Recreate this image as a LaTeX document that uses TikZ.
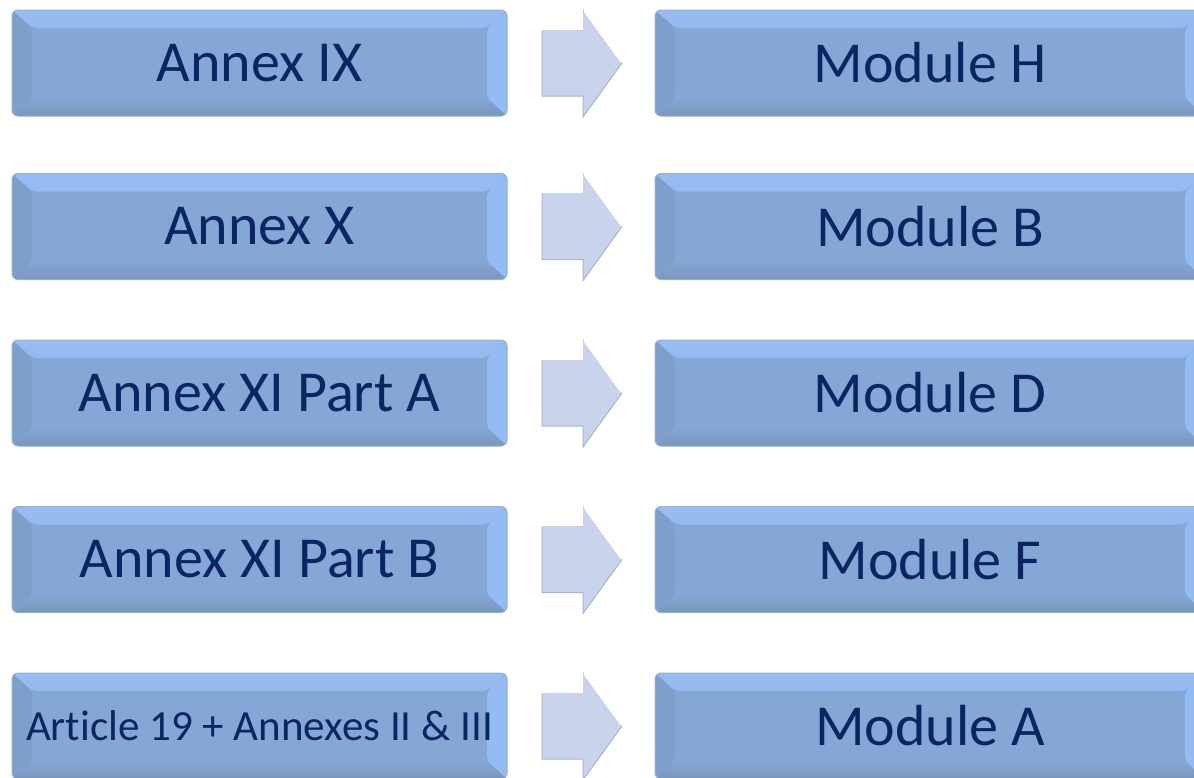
\documentclass[tikz,border=0pt]{standalone}
\usepackage{fontspec}
\setmainfont{Carlito}[Ligatures=NoCommon]

\definecolor{boxface}{HTML}{84A7D6}
\definecolor{boxrim}{HTML}{9AB0CF}
\definecolor{bevlight}{HTML}{98BDF3}
\definecolor{bevleft}{HTML}{7E9FCC}
\definecolor{bevright}{HTML}{95BCF2}
\definecolor{bevdark}{HTML}{7B95BA}
\definecolor{boxtext}{HTML}{0B2462}
\definecolor{arrowfill}{HTML}{C9D4EC}
\definecolor{arrowrim}{HTML}{A9B5CF}

\tikzset{
  modbox/.style={rectangle,rounded corners=6pt,draw=boxrim,line width=1pt,
    fill=boxface,inner sep=0pt,minimum height=106pt,text=boxtext,
    font=\fontsize{58}{60}\selectfont,
    path picture={
      % bevelled rim of the button
      \shade[top color=bevlight,bottom color=boxface]
        (path picture bounding box.north west) -- (path picture bounding box.north east)
        -- ([shift={(-20pt,-18pt)}]path picture bounding box.north east)
        -- ([shift={(20pt,-18pt)}]path picture bounding box.north west) -- cycle;
      \fill[bevleft]
        (path picture bounding box.north west) -- ([shift={(20pt,-18pt)}]path picture bounding box.north west)
        -- ([shift={(20pt,18pt)}]path picture bounding box.south west)
        -- (path picture bounding box.south west) -- cycle;
      \fill[bevright]
        (path picture bounding box.north east) -- ([shift={(-20pt,-18pt)}]path picture bounding box.north east)
        -- ([shift={(-20pt,18pt)}]path picture bounding box.south east)
        -- (path picture bounding box.south east) -- cycle;
      \shade[top color=boxface,bottom color=bevdark]
        (path picture bounding box.south west) -- (path picture bounding box.south east)
        -- ([shift={(-20pt,18pt)}]path picture bounding box.south east)
        -- ([shift={(20pt,18pt)}]path picture bounding box.south west) -- cycle;
    }},
  annexbox/.style={modbox,minimum width=495pt},
  modulebox/.style={modbox,minimum width=550pt},
  blockarrow/.pic={
    \fill[arrowfill] (0,-33) -- (41,-33) -- (41,-54) -- (80,0) -- (41,54) -- (41,33) -- (0,33) -- cycle;
    \draw[arrowrim,line width=1pt] (0,-33) -- (0,33) -- (41,33) -- (41,54) -- (80,0);
    \draw[white,line width=1.2pt] (42,-52) -- (79,-1);
    \draw[arrowrim!60,line width=0.8pt] (0,-33) -- (41,-33) -- (41,-54);
  }
}

\begin{document}
\begin{tikzpicture}[x=1pt,y=-1pt]
        \useasboundingbox (0,0) rectangle (1194,777);
        \clip (0,0) rectangle (1194,777);
        \fill[white] (0,0) rectangle (1194,777);
        % left column: annexes
        \begin{scope}[every node/.style={annexbox}]
        \node (ix) at (259.5,63) {Annex IX};
        \node (x) at (259.5,226.5) {Annex X};
        \node (xia) at (259.5,393) {Annex XI Part A};
        \node (xib) at (259.5,559.5) {Annex XI Part B};
        \node[font=\fontsize{43}{45}\selectfont] (art) at (259.5,726) {Article 19 + Annexes II \& III};
        \end{scope}
        % right column: modules
        \begin{scope}[every node/.style={modulebox}]
        \node (h) at (930,63) {Module H};
        \node (b) at (930,226.5) {Module B};
        \node (d) at (930,393) {Module D};
        \node (f) at (930,559.5) {Module F};
        \node (a) at (930,726) {Module A};
        \end{scope}
        % arrows between the columns
        \pic (toh) at (542,63) {blockarrow};
        \pic (tob) at (542,226.5) {blockarrow};
        \pic (tod) at (542,393) {blockarrow};
        \pic (tof) at (542,559.5) {blockarrow};
        \pic (toa) at (542,726) {blockarrow};
        \end{tikzpicture}
\end{document}
